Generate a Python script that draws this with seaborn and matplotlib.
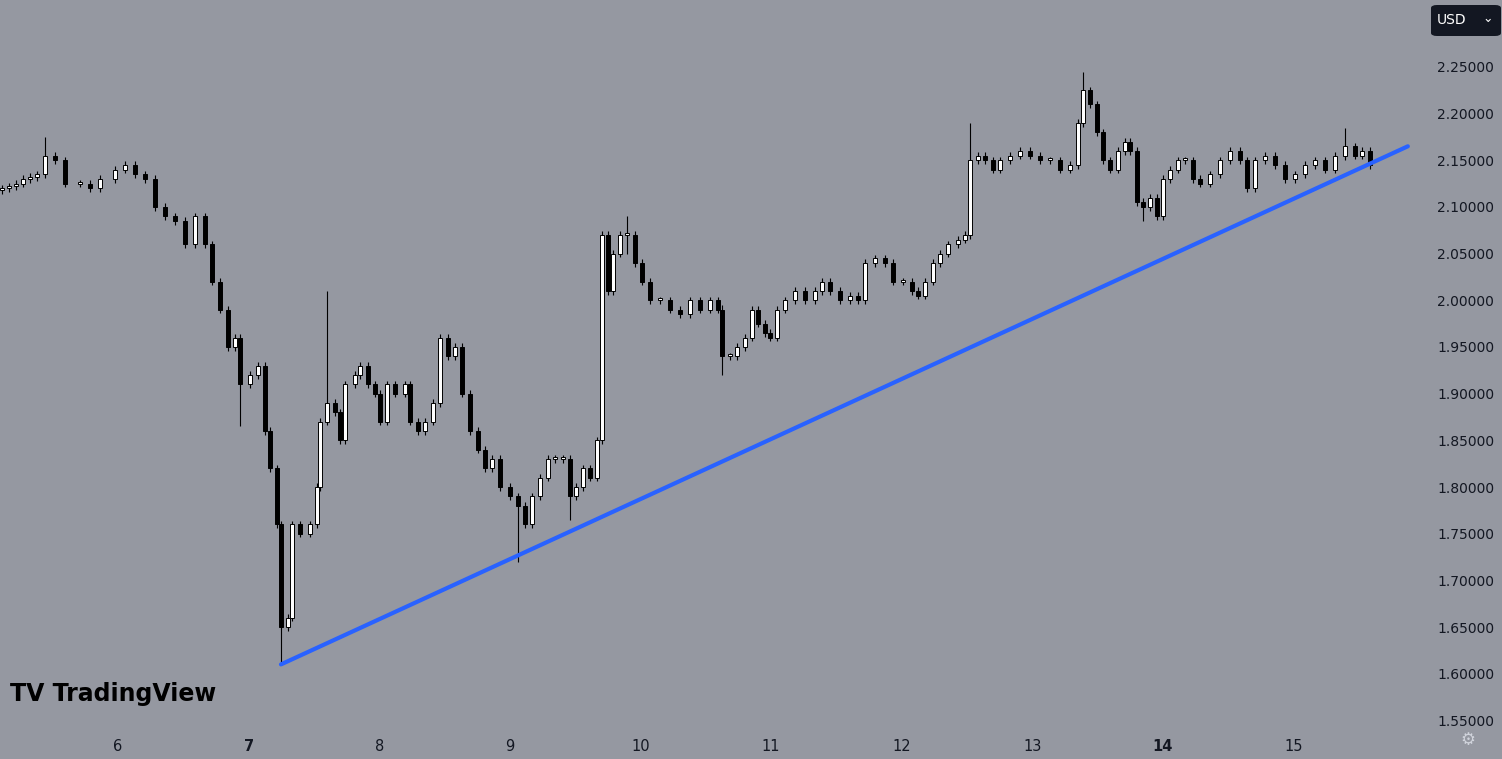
import matplotlib
matplotlib.use("Agg")
import matplotlib.pyplot as plt
import seaborn as sns
import numpy as np
import pandas as pd
from matplotlib.patches import FancyBboxPatch

# hours since day 5, 00:00
hours = [2.7,4.0,5.3,6.6,7.8,9.1,10.6,12.4,14.3,17.0,
         18.9,20.7,23.4,25.3,27.1,29.0,30.8,32.6,34.5,36.3,
         38.2,40.0,41.3,42.7,44.2,45.5,46.4,48.3,49.7,51.0,
         51.9,53.2,54.0,55.2,56.0,57.5,59.3,60.6,61.1,62.4,
         63.9,64.8,65.7,67.6,68.5,69.9,71.2,72.2,73.4,74.9,
         76.7,77.7,79.1,80.4,81.9,83.2,84.7,85.9,87.2,88.7,
         90.2,91.5,92.7,94.2,96.0,97.5,98.8,100.1,101.6,103.0,
         104.3,105.8,107.1,108.2,109.5,110.7,112.0,113.0,114.1,115.0,
         116.3,117.6,119.0,120.3,121.8,123.6,125.5,127.3,129.1,131.0,
         132.8,134.3,135.0,136.5,137.8,139.2,140.5,141.6,142.9,143.8,
         145.1,146.6,148.4,150.3,152.1,153.4,154.9,156.7,158.5,160.0,
         161.3,163.1,165.0,166.4,168.3,169.9,171.0,172.3,173.8,175.1,
         176.6,178.4,179.7,180.6,182.1,183.4,184.8,186.1,188.0,189.8,
         191.6,193.5,195.3,197.1,199.0,200.4,201.4,202.7,203.9,205.0,
         206.3,207.8,209.1,210.0,211.3,212.4,213.7,215.0,216.1,217.3,
         218.8,220.1,221.6,222.9,224.7,226.5,228.4,230.2,231.5,233.0,
         234.8,236.6,238.5,240.3,242.2,244.0,245.8,247.7,249.5,251.3,
         252.6,254.1]
closes = [2.12,2.122,2.125,2.13,2.132,2.135,2.155,2.15,2.125,2.125,
          2.12,2.13,2.14,2.145,2.135,2.13,2.10,2.09,2.085,2.06,
          2.09,2.06,2.02,1.99,1.95,1.96,1.91,1.92,1.93,1.86,
          1.82,1.76,1.65,1.66,1.76,1.75,1.76,1.80,1.87,1.89,
          1.88,1.85,1.91,1.92,1.93,1.91,1.90,1.87,1.91,1.90,
          1.91,1.87,1.86,1.87,1.89,1.96,1.94,1.95,1.90,1.86,
          1.84,1.82,1.83,1.80,1.79,1.78,1.76,1.79,1.81,1.83,
          1.83,1.83,1.79,1.80,1.82,1.81,1.85,2.07,2.01,2.05,
          2.07,2.07,2.04,2.02,2.00,2.00,1.99,1.985,2.00,1.99,
          2.00,1.99,1.94,1.94,1.95,1.96,1.99,1.975,1.965,1.96,
          1.99,2.00,2.01,2.00,2.01,2.02,2.01,2.00,2.005,2.00,
          2.04,2.045,2.04,2.02,2.02,2.01,2.005,2.02,2.04,2.05,
          2.06,2.065,2.07,2.15,2.155,2.15,2.14,2.15,2.155,2.16,
          2.155,2.15,2.15,2.14,2.145,2.19,2.225,2.21,2.18,2.15,
          2.14,2.16,2.17,2.16,2.105,2.10,2.11,2.09,2.13,2.14,
          2.15,2.15,2.13,2.125,2.135,2.15,2.16,2.15,2.12,2.15,
          2.155,2.145,2.13,2.135,2.145,2.15,2.14,2.155,2.165,2.155,
          2.16,2.145]
first_open = 2.118
wick_overrides = {54.0: (1.655, 1.61), 97.5: (1.785, 1.72), 135.0: (1.995, 1.92),
                  180.6: (2.19, 2.07), 201.4: (2.245, 2.19), 62.4: (2.01, 1.87),
                  117.6: (2.09, 2.05), 249.5: (2.185, 2.15), 46.4: (1.93, 1.865),
                  10.6: (2.175, 2.15), 107.1: (1.83, 1.765), 212.4: (2.11, 2.085)}
yticks = [1.55,1.60,1.65,1.70,1.75,1.80,1.85,1.90,1.95,2.00,2.05,2.10,2.15,2.20,2.25]
day_ticks = [6,7,8,9,10,11,12,13,14,15]
bold_days = [7,14]
trend_days = [7.248, 15.877]
trend_vals = [1.61, 2.165]

bg = "#9598a1"
sns.set_style("white")
fig = plt.figure(figsize=(15.02, 7.59), dpi=100, facecolor=bg)
ax = fig.add_axes([0, 0.041, 0.9467, 0.959], facecolor=bg)

n = min(len(hours), len(closes))
t = 5 + np.array(hours[:n]) / 24
c = np.array(closes[:n])
opens = np.array([first_open] + list(c[:-1]))
hi = np.maximum(opens, c) + 0.004
lo = np.minimum(opens, c) - 0.004
for hkey, (h, l) in wick_overrides.items():
    k = int(np.argmin(np.abs(np.array(hours[:n]) - hkey)))
    hi[k] = max(h, hi[k]); lo[k] = min(l, lo[k])
w = 0.75 / 24
for i in range(n):
    up = c[i] >= opens[i]
    ax.vlines(t[i], lo[i], hi[i], color="black", lw=0.8, zorder=2)
    ax.bar(t[i], max(abs(c[i]-opens[i]), 0.002), bottom=min(c[i], opens[i]), width=w,
           color="white" if up else "black", edgecolor="black", lw=0.7, zorder=3)

df = pd.DataFrame({"day": trend_days, "price": trend_vals})
sns.lineplot(data=df, x="day", y="price", ax=ax, color="#2962ff", lw=3, zorder=4)

ax.set_xlim(5.0965, 15.985)
ax.set_ylim(1.542, 2.3217)
for s in ax.spines.values():
    s.set_visible(False)
ax.set_xlabel(""); ax.set_ylabel("")
ax.yaxis.tick_right()
ax.set_yticks(yticks)
ax.set_yticklabels([f"{v:.5f}" for v in yticks], fontsize=10, color="#131722")
ax.tick_params(axis="y", length=0, pad=11)
ax.set_xticks(day_ticks)
ax.set_xticklabels([str(d) for d in day_ticks], fontsize=10.5, color="#131722")
for lab, d in zip(ax.get_xticklabels(), day_ticks):
    if d in bold_days:
        lab.set_fontweight("bold")
ax.tick_params(axis="x", length=0, pad=8)

box = FancyBboxPatch((1431/1502, 1-36/759), 70/1502, 31/759, boxstyle="round,pad=0,rounding_size=0.004",
                     transform=fig.transFigure, facecolor="#131722", edgecolor="none")
fig.patches.append(box)
fig.text(1437/1502, 1-20/759, "USD", color="white", fontsize=10, va="center")
fig.text(1488/1502, 1-19/759, "⌄", color="white", fontsize=9, va="center", ha="center")
fig.text(10/1502, 1-694/759, "TV TradingView", color="black", fontsize=17, fontweight="bold", va="center")
fig.text(1468/1502, 1-740/759, "⚙", color="#d1d4dc", fontsize=12, va="center", ha="center")

fig.savefig("out.png", dpi=100, facecolor=bg)
